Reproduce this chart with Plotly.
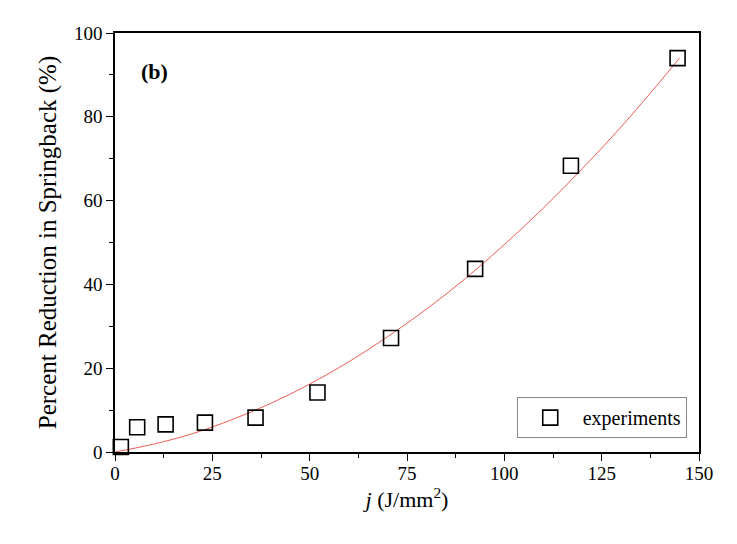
import plotly.graph_objects as go

exp_x = [1.5, 5.7, 13.0, 23.1, 36.1, 52.0, 70.9, 92.5, 117.1, 144.5]
exp_y = [1.2, 5.9, 6.6, 7.0, 8.2, 14.2, 27.2, 43.7, 68.3, 94.0]

# Fitted curve
fit_x = [0, 10, 20, 30, 40, 50, 60, 70, 80, 90, 100, 110, 120, 130, 140, 145]
fit_y = [0, 1.9, 4.4, 7.7, 11.6, 16.2, 21.5, 27.5, 34.1, 41.4, 49.5, 58.2, 67.6, 77.6, 88.4, 94.0]

x_ticks = [0, 25, 50, 75, 100, 125, 150]
y_ticks = [0, 20, 40, 60, 80, 100]

FONT = "Liberation Serif"

fig = go.Figure()
fig.add_trace(go.Scatter(
    x=fit_x, y=fit_y, mode="lines", line=dict(color="#e8332a", width=0.8, shape="spline"),
    showlegend=False, hoverinfo="skip"))
fig.add_trace(go.Scatter(
    x=exp_x, y=exp_y, mode="markers", name="experiments",
    marker=dict(symbol="square-open", size=15, color="black", line=dict(width=1.6, color="black")),
    cliponaxis=False))

axis_common = dict(
    showline=True, linecolor="black", linewidth=1.5, mirror=True,
    ticks="outside", ticklen=7, tickwidth=1.3, tickcolor="black",
    showgrid=False, zeroline=False,
    tickfont=dict(family=FONT, size=19, color="black"),
)

fig.update_xaxes(
    range=[0, 150], tickvals=x_ticks, ticklabelstandoff=-4,
    minor=dict(ticks="outside", ticklen=4, tickwidth=1.3, tickcolor="black", dtick=12.5, tick0=0),
    title=dict(text="<i>j</i> (J/mm<sup>2</sup>)", font=dict(family=FONT, size=22, color="black"), standoff=2),
    **axis_common)
fig.update_yaxes(
    range=[0, 100], tickvals=y_ticks,
    minor=dict(ticks="outside", ticklen=4, tickwidth=1.3, tickcolor="black", dtick=10, tick0=0),
    title=dict(text="Percent Reduction in Springback (%)", font=dict(family=FONT, size=25, color="black"), standoff=10),
    **axis_common)

fig.add_annotation(text="<b>(b)</b>", x=0.067, y=0.907, xref="paper", yref="paper",
                   showarrow=False, font=dict(family=FONT, size=22, color="black"),
                   xanchor="center", yanchor="middle")

fig.update_layout(
    width=729, height=536,
    margin=dict(l=107, r=38, t=25, b=92),
    paper_bgcolor="white", plot_bgcolor="white",
    showlegend=True,
    legend=dict(x=0.979, y=0.033, xanchor="right", yanchor="bottom",
                bordercolor="#888888", borderwidth=1, bgcolor="white",
                font=dict(family=FONT, size=20, color="black"),
                itemwidth=55, tracegroupgap=0),
)

fig.write_html("out.html")
